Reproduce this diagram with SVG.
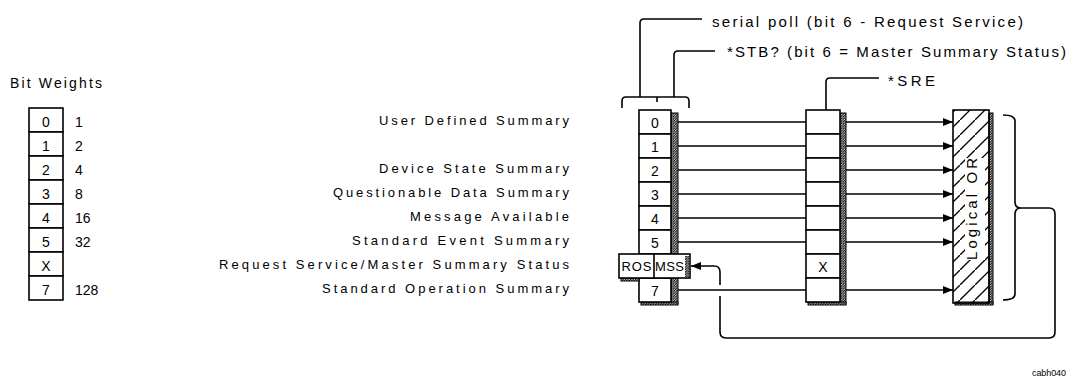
<svg xmlns="http://www.w3.org/2000/svg" width="1068" height="383" viewBox="0 0 1068 383">
<style>
.ln{fill:none;stroke:#000;stroke-width:1.6}
.bx{fill:#fff;stroke:#000;stroke-width:1.6}
.sh{fill:url(#shade);stroke:#000;stroke-width:1}
.t{font-family:"Liberation Sans",Arial,sans-serif;font-size:13px;fill:#000}
.d{font-family:"Liberation Sans",Arial,sans-serif;font-size:14px;fill:#000}
.m{text-anchor:middle}
.big{font-family:"Liberation Sans",Arial,sans-serif;font-size:15px;fill:#000}
</style>
<defs>
<pattern id="shade" width="2.5" height="2.5" patternUnits="userSpaceOnUse"><rect width="2.5" height="2.5" fill="#ddd"/><path d="M-1,3.5 L3.5,-1" stroke="#000" stroke-width="1.1"/></pattern>
<pattern id="hatch" width="15" height="15" patternUnits="userSpaceOnUse"><path d="M-2,17 L17,-2" stroke="#000" stroke-width="1.3"/></pattern>
<marker id="arr" viewBox="0 0 10 8" refX="10" refY="4" markerWidth="10" markerHeight="8" markerUnits="userSpaceOnUse" orient="auto"><path d="M0,0 L10,4 L0,8 z" fill="#000"/></marker>
</defs>
<rect width="1068" height="383" fill="#fff"/>

<g id="bit-weights">
<text class="d" x="10" y="88" textLength="92">Bit Weights</text>
<rect class="bx" x="29" y="108" width="34" height="24"/>
<rect class="bx" x="29" y="132" width="34" height="24"/>
<rect class="bx" x="29" y="156" width="34" height="24"/>
<rect class="bx" x="29" y="180" width="34" height="24"/>
<rect class="bx" x="29" y="204" width="34" height="24"/>
<rect class="bx" x="29" y="228" width="34" height="24"/>
<rect class="bx" x="29" y="252" width="34" height="24"/>
<rect class="bx" x="29" y="276" width="34" height="24"/>
<text class="d m" x="46" y="126.5">0</text>
<text class="d m" x="46" y="150.5">1</text>
<text class="d m" x="46" y="174.5">2</text>
<text class="d m" x="46" y="198.5">3</text>
<text class="d m" x="46" y="222.5">4</text>
<text class="d m" x="46" y="246.5">5</text>
<text class="d m" x="46" y="270.5">X</text>
<text class="d m" x="46" y="294.5">7</text>
<text class="d" x="75" y="126.5">1</text>
<text class="d" x="75" y="150.5">2</text>
<text class="d" x="75" y="174.5">4</text>
<text class="d" x="75" y="198.5">8</text>
<text class="d" x="75" y="222.5">16</text>
<text class="d" x="75" y="246.5">32</text>
<text class="d" x="75" y="294.5">128</text>
</g>

<g id="bit-labels">
<text class="t" x="379" y="125" textLength="190">User Defined Summary</text>
<text class="t" x="379" y="173" textLength="190">Device State Summary</text>
<text class="t" x="333" y="197" textLength="236">Questionable Data Summary</text>
<text class="t" x="410" y="221" textLength="159">Message Available</text>
<text class="t" x="352" y="245" textLength="217">Standard Event Summary</text>
<text class="t" x="219" y="269" textLength="350">Request Service/Master Summary Status</text>
<text class="t" x="322" y="293" textLength="247">Standard Operation Summary</text>
</g>

<g id="status-byte-register">
<rect class="sh" x="671" y="113" width="7" height="191"/>
<rect class="sh" x="641" y="302" width="37" height="3"/>
<rect class="bx" x="639" y="110" width="32" height="24"/>
<rect class="bx" x="639" y="134" width="32" height="24"/>
<rect class="bx" x="639" y="158" width="32" height="24"/>
<rect class="bx" x="639" y="182" width="32" height="24"/>
<rect class="bx" x="639" y="206" width="32" height="24"/>
<rect class="bx" x="639" y="230" width="32" height="24"/>
<rect class="bx" x="639" y="278" width="32" height="24"/>
<rect class="sh" x="621" y="278" width="18" height="3"/>
<rect class="bx" x="619" y="254" width="71" height="24"/>
<rect x="685" y="256" width="4" height="21" fill="url(#shade)"/>
<line class="ln" x1="654" y1="254" x2="654" y2="278"/>
<text class="d m" x="655" y="127.5">0</text>
<text class="d m" x="655" y="151.5">1</text>
<text class="d m" x="655" y="175.5">2</text>
<text class="d m" x="655" y="199.5">3</text>
<text class="d m" x="655" y="223.5">4</text>
<text class="d m" x="655" y="247.5">5</text>
<text class="t m" x="636.5" y="271" textLength="30">ROS</text>
<text class="t m" x="669.5" y="271" textLength="29">MSS</text>
<text class="d m" x="655" y="295.5">7</text>
</g>

<g id="sre-register">
<rect class="sh" x="840" y="113" width="6" height="191"/>
<rect class="sh" x="808" y="302" width="38" height="3"/>
<rect class="bx" x="806" y="110" width="34" height="24"/>
<rect class="bx" x="806" y="134" width="34" height="24"/>
<rect class="bx" x="806" y="158" width="34" height="24"/>
<rect class="bx" x="806" y="182" width="34" height="24"/>
<rect class="bx" x="806" y="206" width="34" height="24"/>
<rect class="bx" x="806" y="230" width="34" height="24"/>
<rect class="bx" x="806" y="254" width="34" height="24"/>
<rect class="bx" x="806" y="278" width="34" height="24"/>
<text class="d m" x="823" y="271.5">X</text>
</g>

<g id="logical-or">
<rect class="sh" x="989" y="113" width="4" height="191"/>
<rect class="sh" x="955" y="302" width="38" height="3"/>
<rect x="953" y="110" width="36" height="193" fill="url(#hatch)" stroke="#000" stroke-width="1.6"/>
<rect x="965" y="158" width="20" height="102" fill="#fff"/>
<text class="big m" transform="translate(977,209) rotate(-90)" textLength="102">Logical OR</text>
</g>

<g id="annotations">
<text class="big" x="712" y="27" textLength="311">serial poll (bit 6 - Request Service)</text>
<text class="big" x="727" y="57" textLength="339">*STB? (bit 6 = Master Summary Status)</text>
<text class="big" x="888" y="86" textLength="47">*SRE</text>
<text class="t" x="1032" y="376" style="font-size:9px" textLength="34">cabh040</text>
</g>

<g id="connectors">
<path class="ln" d="M622,108 V101 Q622,97 626,97 H685 Q689,97 689,101 V108"/>
<path class="ln" d="M657,97 V102"/>
<path class="ln" d="M640,97 V23 Q640,19 644,19 H702"/>
<path class="ln" d="M674,97 V55 Q674,51 678,51 H715"/>
<path class="ln" d="M826,110 V82 Q826,78 830,78 H879"/>
<path class="ln" d="M678,122 H806 M678,146 H806 M678,170 H806 M678,194 H806 M678,218 H806 M678,242 H806 M678,290 H806"/>
<path class="ln" d="M846,122 H953" marker-end="url(#arr)"/>
<path class="ln" d="M846,146 H953" marker-end="url(#arr)"/>
<path class="ln" d="M846,170 H953" marker-end="url(#arr)"/>
<path class="ln" d="M846,194 H953" marker-end="url(#arr)"/>
<path class="ln" d="M846,218 H953" marker-end="url(#arr)"/>
<path class="ln" d="M846,242 H953" marker-end="url(#arr)"/>
<path class="ln" d="M846,290 H953" marker-end="url(#arr)"/>
<path class="ln" d="M1003,115 Q1015,115 1015,121 V202 Q1015,208 1021,208 Q1015,208 1015,214 V294 Q1015,300 1003,300"/>
<path class="ln" d="M1021,208 H1049 Q1055,208 1055,214 V332 Q1055,338 1049,338 H726 Q720,338 720,332 V296 M720,285 V272 Q720,266 714,266 H691" marker-end="url(#arr)"/>
</g>
</svg>
